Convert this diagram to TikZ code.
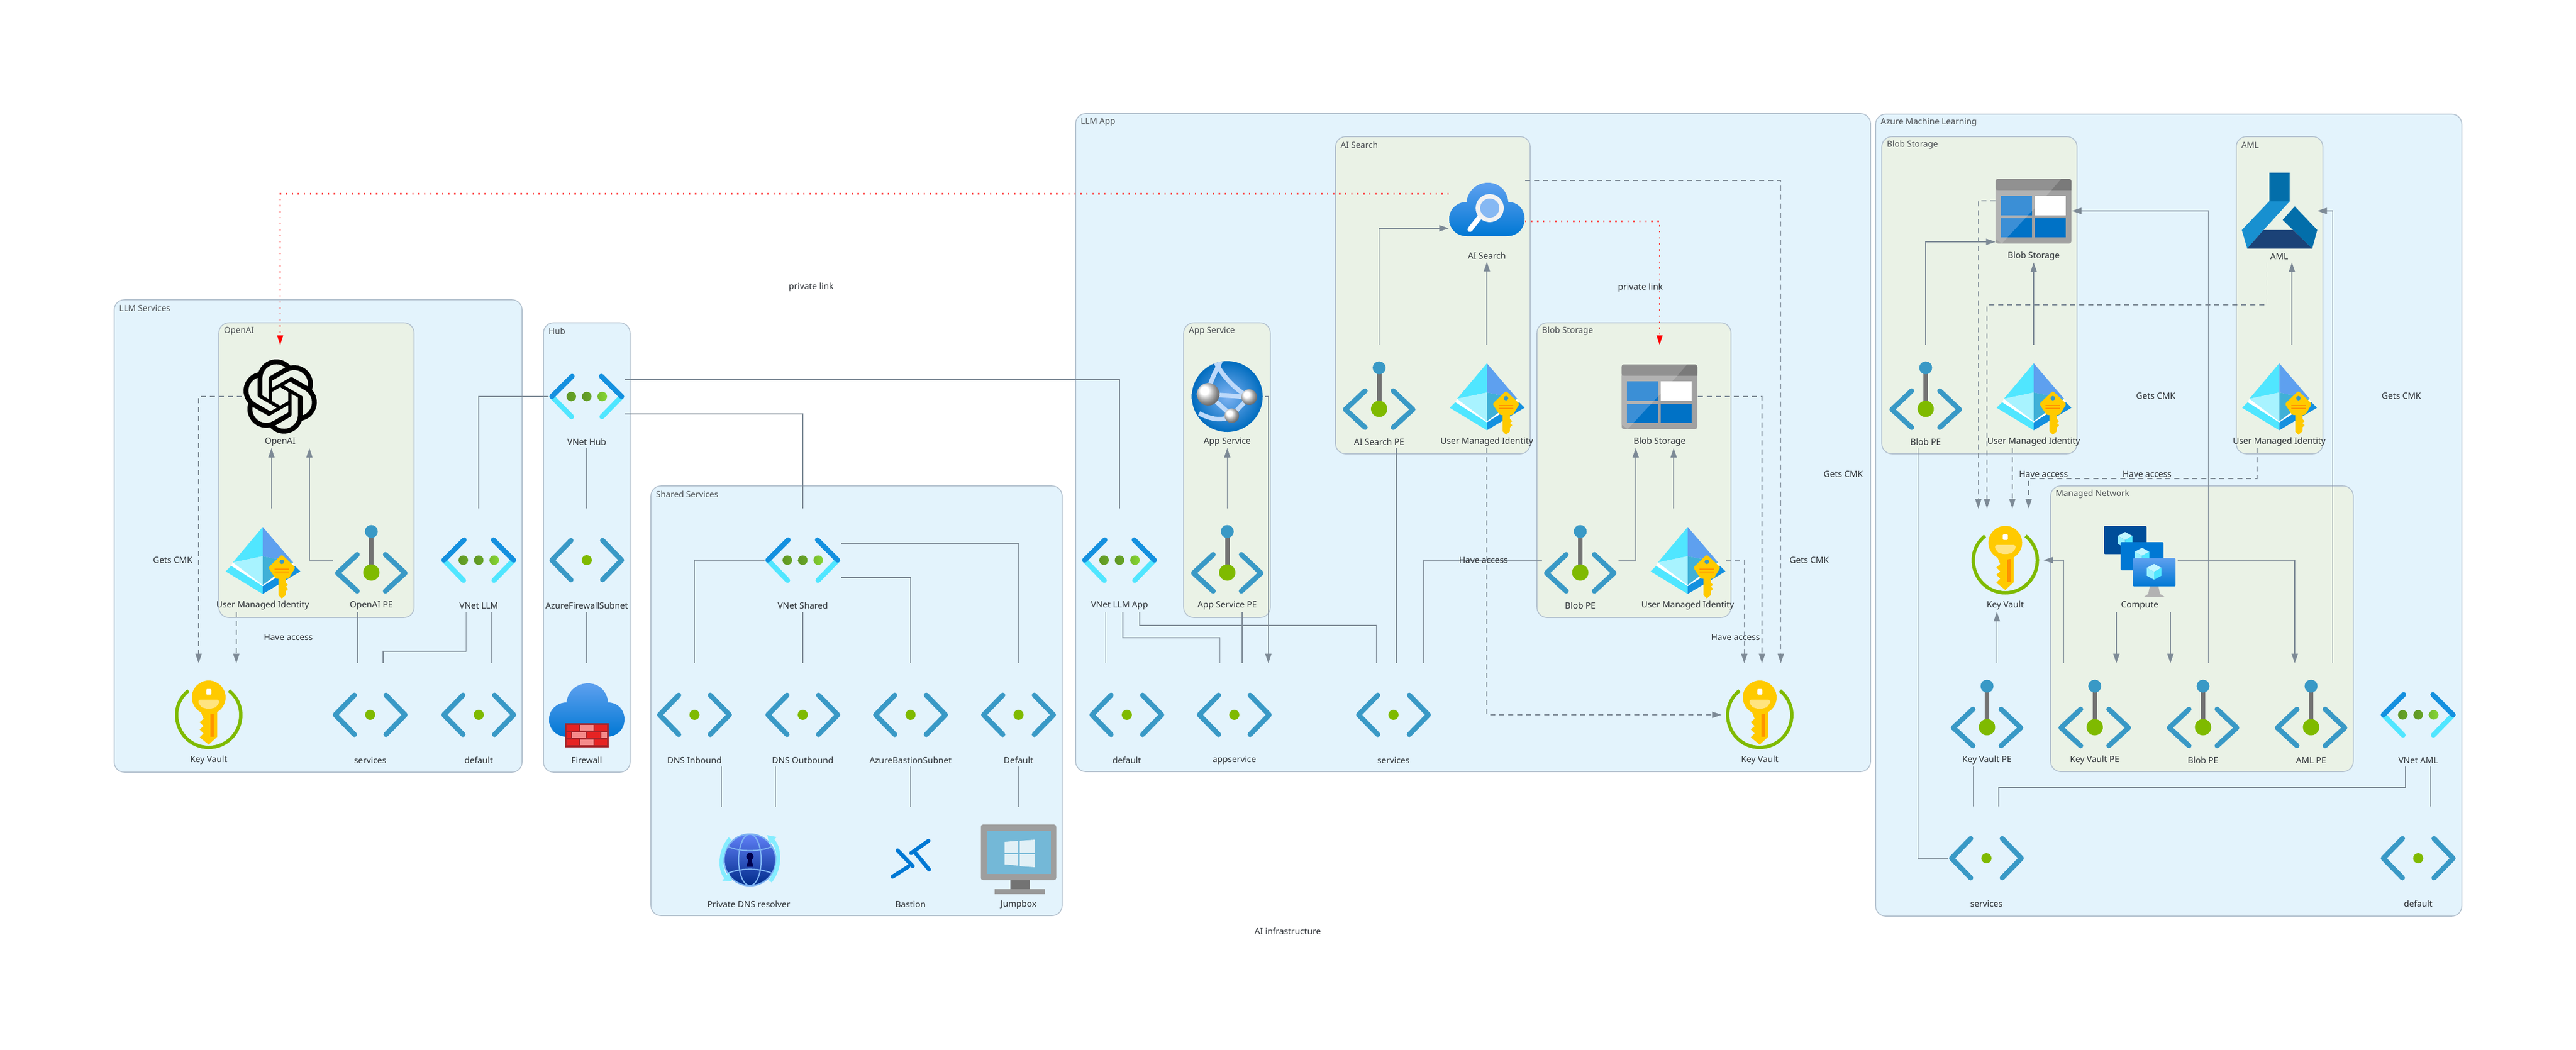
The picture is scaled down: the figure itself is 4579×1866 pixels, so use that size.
\documentclass[tikz,border=0pt]{standalone}
\usepackage{fontspec}
\setmainfont{Noto Sans}
\usetikzlibrary{arrows.meta,svg.path}
\definecolor{outerfill}{HTML}{E3F3FC}
\definecolor{innerfill}{HTML}{EAF2E6}
\definecolor{boxline}{HTML}{B5C3D0}
\definecolor{edgecol}{HTML}{7D8A96}
\definecolor{txtcol}{HTML}{2F3338}
\definecolor{azblue}{HTML}{3999C6}
\definecolor{azgreen}{HTML}{7FBA00}
\definecolor{azdark}{HTML}{1490DF}
\definecolor{azcyan}{HTML}{50E6FF}
\definecolor{azmid}{HTML}{5EA0EF}
\definecolor{azdeep}{HTML}{0078D4}
\definecolor{keyyel}{HTML}{FFCA00}
\definecolor{keyorg}{HTML}{FF9300}
\definecolor{dotdark}{HTML}{5E9624}
\definecolor{dotlight}{HTML}{86D633}
\definecolor{tilelight}{HTML}{3B8FD6}
\definecolor{tiledeep}{HTML}{0072C6}
\definecolor{amltop}{HTML}{036EAA}
\definecolor{amlarm}{HTML}{1890D0}
\definecolor{amlbase}{HTML}{1B4277}
\definecolor{brickdark}{HTML}{A4262C}
\definecolor{brickred}{HTML}{E62323}
\definecolor{brickpink}{HTML}{F58A8A}
\newcommand{\res}[5]{%
  \node[resbox] (#1) at (#2,#3) {};
  \pic at (#1.center) {#4};
  \node[lab] (#1t) at ([yshift=-81pt]#1.center) {#5};
}
\newcommand{\clst}[7]{%
  \draw[#2] (#3,#4) rectangle (#5,#6);
  \node[clab] (#1) at (#3+9,#4+15) {#7};
}
\begin{document}
\begin{tikzpicture}[x=1pt,y=-1pt]
    \def\bigcloud{(-35,39) .. controls (-54,39) and (-67,26) .. (-67,8)
        .. controls (-67,-10) and (-52,-22) .. (-36,-22)
        .. controls (-34,-42) and (-18,-56) .. (2,-56)
        .. controls (22,-56) and (36,-42) .. (38,-22)
        .. controls (54,-22) and (67,-10) .. (67,8)
        .. controls (67,26) and (54,39) .. (35,39) -- cycle}
    \tikzset{
        resbox/.style={minimum width=135pt, minimum height=183pt, inner sep=0pt},
        lab/.style={font=\fontsize{15.3}{17}\selectfont, text=txtcol, inner sep=0pt},
        clab/.style={font=\fontsize{15}{17}\selectfont, text=txtcol!85, anchor=west, inner sep=0pt},
        outerbox/.style={draw=boxline, line width=1.6pt, fill=outerfill, rounded corners=18pt},
        innerbox/.style={draw=boxline, line width=1.6pt, fill=innerfill, rounded corners=18pt},
        edge/.style={draw=edgecol, line width=1.6pt},
        arr/.style={edge, -{Triangle[length=17pt, width=11pt]}},
        dsh/.style={arr, dash pattern=on 9pt off 7pt},
        redl/.style={draw=red!72, line width=2.4pt, dash pattern=on 2.4pt off 8.3pt},
        redtip/.style={fill=red, draw=none},
        chev/.style={line width=9pt, line cap=round, line join=round},
        pics/subnet/.style={code={
            \draw[chev, azblue] (-28,-35) -- (-62,0) -- (-28,35);
            \draw[chev, azblue] (28,-35) -- (62,0) -- (28,35);
            \fill[azgreen] (0,0) circle (9);
        }},
        pics/vnet/.style={code={
            \draw[chev, azcyan] (-62,0) -- (-27,36);
            \draw[chev, azcyan] (62,0) -- (27,36);
            \draw[chev, azdark] (-62,0) -- (-26,-36);
            \draw[chev, azdark] (62,0) -- (26,-36);
            \foreach \dx in {-27.5,0} {
                \shade[left color=dotdark, right color=dotdark!75!dotlight] (\dx,0) circle (8.5);
            }
            \shade[left color=dotdark!40!dotlight, right color=dotlight] (27.5,0) circle (8.5);
        }},
        pics/pvtep/.style={code={
            \draw[chev, azblue] (-25,-10) -- (-60,23) -- (-25,55);
            \draw[chev, azblue] (25,-10) -- (60,23) -- (25,55);
            \draw[line width=8pt, black!55] (0,-51) -- (0,22);
            \fill[azblue] (0,-51) circle (11.5);
            \fill[azgreen] (0,22) circle (14.5);
        }},
        pics/smallkey/.style={code={
            \fill[keyyel] (28,30) rectangle (41,62);
            \fill[keyyel] (28,62) -- (34,68) -- (41,62) -- cycle;
            \fill[keyyel] (41,40) -- (45,44) -- (41,47) -- (45,51) -- (41,55) -- cycle;
            \fill[keyyel, rounded corners=3pt] (34,-10) -- (58,13) -- (46,33) -- (23,33) -- (10,13) -- cycle;
            \fill[azblue] (34,3) circle (4);
            \draw[keyorg, line width=1.5pt] (21,16) -- (47,16) (21,21) -- (47,21);
        }},
        pics/umi/.style={code={
            \fill[azcyan] (-66,20) -- (-56,10) -- (0,44) -- (0,60) -- cycle;
            \fill[azdark] (67,20) -- (57,10) -- (0,44) -- (0,60) -- cycle;
            \fill[white] (-56,10) -- (-53,4) -- (0,44) -- (53,4) -- (57,10) -- (0,46) -- cycle;
            \fill[azcyan] (0,-59) -- (-53,4) -- (0,-7) -- cycle;
            \fill[azmid] (0,-59) -- (54,4) -- (0,-7) -- cycle;
            \fill[azcyan!50!white] (-53,4) -- (0,-7) -- (0,44) -- cycle;
            \fill[azblue!70!azcyan] (54,4) -- (0,-7) -- (0,44) -- cycle;
            \pic {smallkey};
        }},
        pics/keyvault/.style={code={
            \draw[azgreen, line width=6pt] (36,-43) .. controls (50,-32) and (57,-16) .. (57,0)
                .. controls (57,32) and (32,58) .. (0,58)
                .. controls (-32,58) and (-57,32) .. (-57,0)
                .. controls (-57,-16) and (-50,-32) .. (-36,-43);
            \fill[keyyel] (-16,-10) -- (15,-10) -- (15,39) -- (0,53) -- (-16,40) -- (-9,33) -- (-16,26)
                -- (-9,20) -- (-16,13) -- (-9,7) -- cycle;
            \fill[keyorg] (3,-2) rectangle (9,39);
            \fill[keyyel] (0,-31) circle (30);
            \fill[keyyel!50!white, rounded corners=6pt] (-20,-27) -- (20,-27) -- (16,-16) -- (8,-11) -- (-8,-11) -- (-16,-16) -- cycle;
            \fill[white, rounded corners=1.5pt] (-4.5,-46) rectangle (4.5,-36);
        }},
        pics/fwall/.style={code={
            \shade[top color=azmid, bottom color=azdeep] \bigcloud;
            \fill[brickdark] (-39,15) rectangle (39,58);
            \foreach \bx/\by/\bw/\bc in {-36/18/22/brickred, -12/18/24/brickpink, 14/18/22/brickred, -36/31/8/brickred, -26/31/24/brickpink, 0/31/24/brickred, 26/31/10/brickpink, -36/44/22/brickred, -12/44/24/brickpink, 14/44/22/brickred} {
                \fill[\bc] (\bx,\by) rectangle ++(\bw,10);
            }
        }},
        pics/srch/.style={code={
            \begin{scope}[yshift=-7pt]
                \shade[top color=azmid, bottom color=azdeep] \bigcloud;
            \end{scope}
            \draw[white, line width=9pt, line cap=round] (-12,11) -- (-30,34);
            \fill[white!95!black] (5,-4) circle (25);
            \fill[azmid!75!white] (5,-4) circle (17);
        }},
        pics/blobst/.style={code={
            \fill[black!37, rounded corners=4pt] (-67.5,-57) rectangle (67,58);
            \fill[black!30] (-56.7,58) -- (31.7,-37) -- (-67.5,-37) -- (-67.5,50) -- cycle;
            \fill[black!43, rounded corners=4pt] (-67.5,-57) -- (67,-57) -- (67,-37) -- (-67.5,-37) -- cycle;
            \fill[black!52] (49,-57) -- (31.7,-37) -- (67,-37) -- (67,-53) -- (63,-57) -- cycle;
            \fill[tilelight] (-57.7,-27) rectangle (-2.7,7.7);
            \fill[white] (2,-27) rectangle (56.7,7.7);
            \fill[tilelight] (-57.7,12.7) rectangle (-2.7,47.3);
            \fill[tiledeep] (2,12.7) rectangle (56.7,47.3);
            \begin{scope}
                \clip (31.7,-37) -- (-56.7,58) -- (70,58) -- (70,-37) -- cycle;
                \fill[tiledeep] (-57.7,-27) rectangle (-2.7,7.7);
                \fill[tiledeep] (-57.7,12.7) rectangle (-2.7,47.3);
            \end{scope}
        }},
        pics/amlicon/.style={code={
            \fill[amltop] (-18,-68) -- (18.5,-68) -- (18.5,-17) -- (-18,-17) -- cycle;
            \fill[amlarm] (-18,-17) -- (18.5,-17) -- (-28,34) -- (-57,67) -- (-66.5,34) -- cycle;
            \fill[amltop] (27.5,-8) -- (67.5,34) -- (58.5,67) -- (6,16) -- cycle;
            \fill[amlbase] (-28,34) -- (24.5,34) -- (58.5,67) -- (-57,67) -- cycle;
        }},
        pics/cube/.style={code={
            \fill[azcyan!35!white] (0,-14) -- (13,-7) -- (0,0) -- (-13,-7) -- cycle;
            \fill[azcyan!60!white] (-13,-7) -- (0,0) -- (0,14) -- (-13,7) -- cycle;
            \fill[azcyan] (13,-7) -- (0,0) -- (0,14) -- (13,7) -- cycle;
        }},
        pics/comp/.style={code={
            \fill[blue!10!tiledeep!75!black, rounded corners=2pt] (-63.5,-61) rectangle (12,-10.7);
            \pic at (-26,-36) {cube};
            \fill[azdeep, rounded corners=2pt] (-34,-32) rectangle (42,18);
            \pic at (4,-8) {cube};
            \fill[black!30] (18,46) -- (33,46) -- (36,60) -- (45,65.7) -- (7,65.7) -- (15,60) -- cycle;
            \shade[top color=azmid, bottom color=azdeep, rounded corners=2pt] (-12,-3.7) rectangle (63.5,46.7);
            \pic at (25.5,20.7) {cube};
        }},
        pics/appsv/.style={code={
            \shade[inner color=azmid!80!white, outer color=azdeep!90!black] (0,0) circle (63);
            \begin{scope}
                \clip (0,0) circle (63);
                \draw[azmid!40!white, line width=8pt] (-34,-4) -- (39,1) -- (8,34) -- cycle;
                \draw[azmid!40!white, line width=8pt] (-34,-4) .. controls (-30,-35) and (-15,-50) .. (-10,-70);
                \draw[azmid!40!white, line width=8pt] (39,1) .. controls (10,-15) and (-10,-40) .. (-20,-60);
                \draw[azmid!40!white, line width=8pt] (8,34) .. controls (-10,45) and (-30,40) .. (-50,30);
            \end{scope}
            \shade[ball color=white] (-34,-4) circle (20);
            \shade[ball color=white] (39,1) circle (14);
            \shade[ball color=white] (8,34) circle (13);
        }},
        pics/dnsres/.style={code={
            \shade[top color=azmid!60!blue!80!white, bottom color=blue!40!azdeep!60!black] (2,2) circle (46);
            \draw[azmid!80!white, line width=2.5pt] (2,2) circle (46);
            \draw[azmid!80!white, line width=2.2pt] (2,2) ellipse (20 and 46);
            \draw[azmid!80!white, line width=2.2pt] (-38,-22) .. controls (-15,-12) and (19,-12) .. (42,-22);
            \draw[azmid!80!white, line width=2.2pt] (-38,26) .. controls (-15,16) and (19,16) .. (42,26);
            \fill[blue!30!black] (2,-4) circle (6.5);
            \fill[blue!30!black] (0,-2) -- (4,-2) -- (8,14) -- (-4,14) -- cycle;
            \draw[azcyan!70!white, line width=7pt, -{Triangle[length=14pt, width=18pt]}] (-33,-36) .. controls (-55,-10) and (-50,25) .. (-30,40);
            \draw[azcyan!70!white, line width=7pt, -{Triangle[length=14pt, width=18pt]}] (38,40) .. controls (58,15) and (55,-20) .. (33,-42);
        }},
        pics/bastn/.style={code={
            \draw[line width=7pt, line cap=round, azdeep] (-23,-15) -- (4,13);
            \draw[line width=7pt, line cap=round, azdeep] (9,-10) -- (33,19);
            \draw[line width=7pt, line cap=round, azdeep] (1,-10) -- (32,-32);
            \draw[line width=7pt, line cap=round, azdeep] (-32,32) -- (-4,14);
        }},
        pics/jbox/.style={code={
            \fill[black!55] (-15,35) rectangle (20,56);
            \fill[black!40] (-43,54) rectangle (46,63);
            \fill[black!38, rounded corners=4pt] (-67,-61) rectangle (67,38);
            \fill[azblue!70!white] (-57,-50) rectangle (57,27);
            \fill[white!85!azblue] (-25,-30) -- (-1,-32) -- (-1,-11) -- (-25,-11) -- cycle;
            \fill[white!85!azblue] (2,-32) -- (29,-34) -- (29,-11) -- (2,-11) -- cycle;
            \fill[white!85!azblue] (-25,-8) -- (-1,-8) -- (-1,12) -- (-25,10) -- cycle;
            \fill[white!85!azblue] (2,-8) -- (29,-8) -- (29,15) -- (2,13) -- cycle;
        }},
        pics/oai/.style={code={
            \fill[black, even odd rule, shift={(-66,-66)}, xscale=5.5, yscale=-5.5] svg {M 22.2819 9.8211 a 5.9847 5.9847 0 0 0 -0.5157 -4.9108 a 6.0462 6.0462 0 0 0 -6.5098 -2.9 A 6.0651 6.0651 0 0 0 4.9807 4.1818 a 5.9847 5.9847 0 0 0 -3.9977 2.9 a 6.0462 6.0462 0 0 0 0.7427 7.0966 a 5.98 5.98 0 0 0 0.511 4.9107 a 6.051 6.051 0 0 0 6.5146 2.9001 A 5.9847 5.9847 0 0 0 13.2599 24 a 6.0557 6.0557 0 0 0 5.7718 -4.2058 a 5.9894 5.9894 0 0 0 3.9977 -2.9001 a 6.0557 6.0557 0 0 0 -0.7475 -7.0729 z M 13.2599 22.4292 a 4.4755 4.4755 0 0 1 -2.8764 -1.0408 l 0.1419 -0.0804 l 4.7783 -2.7582 a 0.7948 0.7948 0 0 0 0.3927 -0.6813 v -6.7369 l 2.02 1.1686 a 0.071 0.071 0 0 1 0.038 0.052 v 5.5826 a 4.504 4.504 0 0 1 -4.4945 4.4944 z M 3.5992 18.3038 a 4.4708 4.4708 0 0 1 -0.5346 -3.0137 l 0.142 0.0852 l 4.783 2.7582 a 0.7712 0.7712 0 0 0 0.7806 0 l 5.8428 -3.3685 v 2.3324 a 0.0804 0.0804 0 0 1 -0.0332 0.0615 L 9.74 19.9502 a 4.4992 4.4992 0 0 1 -6.1408 -1.6464 z M 2.3408 7.8956 a 4.485 4.485 0 0 1 2.3655 -1.9728 V 11.6 a 0.7664 0.7664 0 0 0 0.3879 0.6765 l 5.8144 3.3543 l -2.0201 1.1685 a 0.0757 0.0757 0 0 1 -0.071 0 l -4.8303 -2.7865 A 4.504 4.504 0 0 1 2.3408 7.872 z M 18.9371 11.7514 L 13.1038 8.364 L 15.1192 7.2 a 0.0757 0.0757 0 0 1 0.071 0 l 4.8303 2.7913 a 4.4944 4.4944 0 0 1 -0.6765 8.1042 v -5.6772 a 0.79 0.79 0 0 0 -0.407 -0.667 z M 20.9478 8.7283 l -0.142 -0.0852 l -4.7735 -2.7818 a 0.7759 0.7759 0 0 0 -0.7854 0 L 9.409 9.2297 V 6.8974 a 0.0662 0.0662 0 0 1 0.0284 -0.0615 l 4.8303 -2.7866 a 4.4992 4.4992 0 0 1 6.6802 4.66 z M 8.3065 12.863 l -2.02 -1.1638 a 0.0804 0.0804 0 0 1 -0.038 -0.0567 V 6.0742 a 4.4992 4.4992 0 0 1 7.3757 -3.4537 l -0.142 0.0805 L 8.704 5.459 a 0.7948 0.7948 0 0 0 -0.3927 0.6813 z M 9.4041 10.4976 l 2.602 -1.4998 l 2.6069 1.4998 v 2.9994 l -2.5974 1.4997 l -2.6099 -1.4997 z};
        }}
    }

    \useasboundingbox (0,0) rectangle (4579,1866);

    \clst{llmsvcbox}{outerbox}{203}{533}{928}{1373}{LLM Services}
    \clst{hubbox}{outerbox}{966}{574}{1120}{1373}{Hub}
    \clst{sharedbox}{outerbox}{1157}{864}{1888}{1628}{Shared Services}
    \clst{llmappbox}{outerbox}{1912}{202}{3325}{1372}{LLM App}
    \clst{amlbox}{outerbox}{3334}{203}{4376}{1629}{Azure Machine Learning}
    \clst{openaibox}{innerbox}{389}{574}{736}{1098}{OpenAI}
    \clst{aisearchbox}{innerbox}{2374}{243}{2720}{807}{AI Search}
    \clst{appsvcbox}{innerbox}{2104}{574}{2258}{1098}{App Service}
    \clst{appblobbox}{innerbox}{2732}{574}{3077}{1098}{Blob Storage}
    \clst{mlblobbox}{innerbox}{3345}{243}{3692}{807}{Blob Storage}
    \clst{amlinbox}{innerbox}{3975}{243}{4129}{807}{AML}
    \clst{mnetbox}{innerbox}{3645}{864}{4183}{1372}{Managed Network}

    \res{openai}{498}{705}{oai}{OpenAI}
    \res{llmumi}{467}{996}{umi}{User Managed Identity}
    \res{openaipe}{660}{996}{pvtep}{OpenAI PE}
    \res{llmkv}{371}{1271}{keyvault}{Key Vault}
    \res{llmsvc}{658}{1271}{subnet}{services}
    \res{llmdef}{851}{1271}{subnet}{default}
    \res{vnetllm}{851}{996}{vnet}{VNet LLM}
    \res{vnethub}{1043}{705}{vnet}{VNet Hub}
    \res{fwsubnet}{1043}{996}{subnet}{AzureFirewallSubnet}
    \res{firewall}{1043}{1271}{fwall}{Firewall}

    \res{vnetshared}{1427}{996}{vnet}{VNet Shared}
    \res{dnsin}{1234.5}{1271}{subnet}{DNS Inbound}
    \res{dnsout}{1427}{1271}{subnet}{DNS Outbound}
    \res{bastsub}{1618.5}{1271}{subnet}{AzureBastionSubnet}
    \res{shdef}{1810.5}{1271}{subnet}{Default}
    \res{dnsres}{1331}{1527}{dnsres}{Private DNS resolver}
    \res{bastion}{1618.5}{1527}{bastn}{Bastion}
    \res{jumpbox}{1810.5}{1527}{jbox}{Jumpbox}

    \res{aisearch}{2643}{374}{srch}{AI Search}
    \res{appsvc}{2181.5}{705}{appsv}{App Service}
    \res{aipe}{2451.5}{705}{pvtep}{AI Search PE}
    \res{aiumi}{2643}{705}{umi}{User Managed Identity}
    \res{appblob}{2950}{705}{blobst}{Blob Storage}
    \res{vnetapp}{1990}{996}{vnet}{VNet LLM App}
    \res{apppe}{2181.5}{996}{pvtep}{App Service PE}
    \res{blobpe}{2809}{996}{pvtep}{Blob PE}
    \res{blobumi}{3000}{996}{umi}{User Managed Identity}
    \res{appdef}{2003}{1271}{subnet}{default}
    \res{appsub}{2194}{1271}{subnet}{appservice}
    \res{appsrv}{2477}{1271}{subnet}{services}
    \res{appkv}{3128}{1271}{keyvault}{Key Vault}

    \res{mlblob}{3615}{375}{blobst}{Blob Storage}
    \res{aml}{4051.5}{375}{amlicon}{AML}
    \res{mlpe}{3423}{705}{pvtep}{Blob PE}
    \res{mlumi}{3615}{705}{umi}{User Managed Identity}
    \res{amlumi}{4051.5}{705}{umi}{User Managed Identity}
    \res{mlkv}{3564.5}{996}{keyvault}{Key Vault}
    \res{compute}{3803.5}{996}{comp}{Compute}
    \res{kvpe}{3532}{1271}{pvtep}{Key Vault PE}
    \res{mnkvpe}{3723.5}{1271}{pvtep}{Key Vault PE}
    \res{mnblobpe}{3916}{1271}{pvtep}{Blob PE}
    \res{amlpe}{4108}{1271}{pvtep}{AML PE}
    \res{vnetaml}{4298.5}{1271}{vnet}{VNet AML}
    \res{mlsvc}{3531}{1526}{subnet}{services}
    \res{mldef}{4298.5}{1526}{subnet}{default}

    \draw[dsh] (openai.west) -| ([xshift=-18pt]llmkv.north);
    \draw[arr] ([xshift=15.5pt]llmumi.north) -- ([xshift=-15.5pt]openai.south);
    \draw[arr] (openaipe.west) -| ([xshift=52pt]openai.south);
    \draw[dsh] ([xshift=-47pt]llmumi.south) -- ([xshift=49pt]llmkv.north);
    \draw[edge] ([xshift=-24pt]openaipe.south) -- ([xshift=-22pt]llmsvc.north);
    \draw[edge] ([xshift=-22.5pt]vnetllm.south) -- ++(0,70) -| ([xshift=23pt]llmsvc.north);
    \draw[edge] ([xshift=22pt]vnetllm.south) -- ([xshift=22pt]llmdef.north);
    \draw[edge] (vnethub.west) -| (vnetllm.north);
    \draw[edge] (vnethub.south) -- (fwsubnet.north);
    \draw[edge] (fwsubnet.south) -- (firewall.north);
    \draw[edge] ([yshift=-31pt]vnethub.east) -| (vnetshared.north);
    \draw[edge] ([yshift=30pt]vnethub.east) -| (vnetapp.north);

    \draw[edge] (vnetshared.west) -| (dnsin.north);
    \draw[edge] (vnetshared.south) -- (dnsout.north);
    \draw[edge] ([yshift=-31pt]vnetshared.east) -| (bastsub.north);
    \draw[edge] ([yshift=30pt]vnetshared.east) -| (shdef.north);
    \draw[edge] ([xshift=48pt]dnsin.south) -- ([xshift=-48.5pt]dnsres.north);
    \draw[edge] ([xshift=-48.5pt]dnsout.south) -- ([xshift=47.5pt]dnsres.north);
    \draw[edge] (bastsub.south) -- (bastion.north);
    \draw[edge] (shdef.south) -- (jumpbox.north);

    \draw[edge] ([xshift=-24.5pt]vnetapp.south) -- ([xshift=-37.5pt]appdef.north);
    \draw[edge] ([xshift=6pt]vnetapp.south) -- ++(0,46) -| ([xshift=-25.5pt]appsub.north);
    \draw[edge] ([xshift=36pt]vnetapp.south) -- ++(0,24) -| ([xshift=-30.5pt]appsrv.north);
    \draw[edge] ([xshift=26.5pt]apppe.south) -- ([xshift=14pt]appsub.north);
    \draw[arr] (apppe.north) -- (appsvc.south);
    \draw[arr] (appsvc.east) -| ([xshift=60.5pt]appsub.north);
    \draw[edge] ([xshift=30.5pt]aipe.south) -- ([xshift=5pt]appsrv.north);
    \draw[arr] (aipe.north) |- ([yshift=-32pt]aisearch.west);
    \draw[arr] (aiumi.north) -- (aisearch.south);
    \draw[dsh] ([yshift=53pt]aisearch.east) -| ([xshift=37.5pt]appkv.north);
    \draw[dsh] (aiumi.south) |- (appkv.west);
    \draw[redl] ([yshift=-19.5pt]aisearch.east) -| ([yshift=17pt]appblob.north);
    \draw[redl] ([yshift=29.5pt]aisearch.west) -| ([yshift=17pt]openai.north);
    \fill[redtip] (appblob.north) -- ++(-5.5,-17) -- ++(11,0) -- cycle;
    \fill[redtip] (openai.north) -- ++(-5.5,-17) -- ++(11,0) -- cycle;
    \draw[dsh] (appblob.east) -| ([xshift=4pt]appkv.north);
    \draw[dsh] (blobumi.east) -| ([xshift=-27.5pt]appkv.north);
    \draw[edge] (blobpe.west) -| ([xshift=54pt]appsrv.north);
    \draw[arr] (blobpe.east) -| ([xshift=-42.5pt]appblob.south);
    \draw[arr] ([xshift=-25pt]blobumi.north) -- ([xshift=25pt]appblob.south);

    \draw[arr] (mlpe.north) |- ([yshift=-55pt]mlblob.west);
    \draw[arr] (mlumi.north) -- (mlblob.south);
    \draw[arr] ([xshift=22.5pt]amlumi.north) -- ([xshift=22.5pt]aml.south);
    \draw[dsh] ([yshift=18pt]mlblob.west) -| ([xshift=-48pt]mlkv.north);
    \draw[dsh] ([xshift=-22pt]aml.south) -- ++(0,75) -| ([xshift=-32.5pt]mlkv.north);
    \draw[dsh] ([xshift=-38pt]mlumi.south) -- ([xshift=12.5pt]mlkv.north);
    \draw[dsh] ([xshift=-39.5pt]amlumi.south) -- ++(0,54) -| ([xshift=41.5pt]mlkv.north);
    \draw[arr] ([xshift=9.5pt]mnblobpe.north) |- (mlblob.east);
    \draw[arr] ([xshift=38.5pt]amlpe.north) |- (aml.east);
    \draw[arr] ([xshift=-41.5pt]compute.south) -- ([xshift=38.5pt]mnkvpe.north);
    \draw[arr] ([xshift=54.5pt]compute.south) -- ([xshift=-58pt]mnblobpe.north);
    \draw[arr] (compute.east) -| ([xshift=-29pt]amlpe.north);
    \draw[arr] ([xshift=-55pt]mnkvpe.north) |- (mlkv.east);
    \draw[arr] ([xshift=17.5pt]kvpe.north) -- ([xshift=-15pt]mlkv.south);
    \draw[edge] ([xshift=-24.5pt]kvpe.south) -- ([xshift=-23.5pt]mlsvc.north);
    \draw[edge] ([xshift=-22.5pt]vnetaml.south) -- ++(0,37) -| ([xshift=22pt]mlsvc.north);
    \draw[edge] ([xshift=22pt]vnetaml.south) -- ([xshift=22pt]mldef.north);
    \draw[edge] (mlsvc.west) -| ([xshift=-13.5pt]mlpe.south);

    \node[lab] (linkone) at (1442,511) {private link};
    \node[lab] (linktwo) at (2916,512) {private link};
    \node[lab] (cmkllm) at (307,996.5) {Gets CMK};
    \node[lab] (accllm) at (512.5,1133) {Have access};
    \node[lab] (accapp) at (2637,996) {Have access};
    \node[lab] (cmkappa) at (3276.5,843) {Gets CMK};
    \node[lab] (cmkappb) at (3216,996) {Gets CMK};
    \node[lab] (accappb) at (3085,1133) {Have access};
    \node[lab] (cmkmla) at (3832,704) {Gets CMK};
    \node[lab] (cmkmlb) at (4268.5,704) {Gets CMK};
    \node[lab] (accmla) at (3632.5,843) {Have access};
    \node[lab] (accmlb) at (3816.5,843) {Have access};
    \node[lab] (diagtitle) at (2289,1656) {AI infrastructure};
\end{tikzpicture}
\end{document}
